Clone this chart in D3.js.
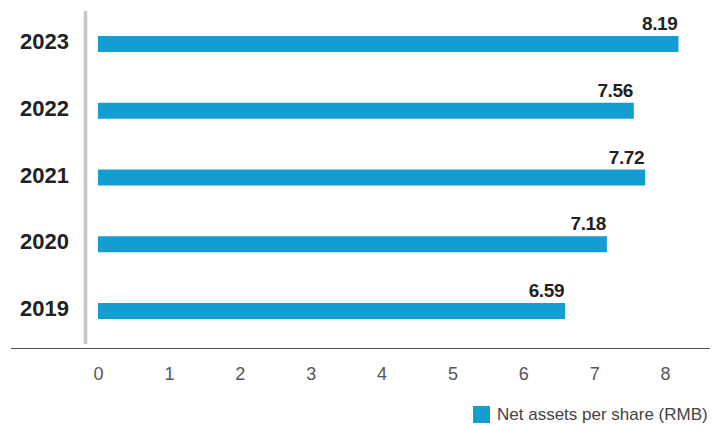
<!DOCTYPE html>
<html>
<head>
<meta charset="utf-8">
<script src="https://cdn.jsdelivr.net/npm/d3@7"></script>
<style>
  html, body { margin: 0; padding: 0; background: #fff; }
  svg { display: block; font-family: "Liberation Sans", Arial, Helvetica, sans-serif; }
</style>
</head>
<body>
<svg id="chart" width="713" height="426"></svg>
<script>
// Net assets per share by year (RMB)
const years = ["2023", "2022", "2021", "2020", "2019"];
const netAssets = [8.19, 7.56, 7.72, 7.18, 6.59];
const xTicks = [0, 1, 2, 3, 4, 5, 6, 7, 8];
const legendLabel = "Net assets per share (RMB)";

const barColor = "#149dd3";
const svg = d3.select("#chart");

const x = d3.scaleLinear().domain([0, 8]).range([98, 665]);
const y = d3.scalePoint().domain(years).range([10.6, 344.4]).padding(0.5);
const barH = 16;

// vertical baseline at the left of the bars
svg.append("line")
  .attr("x1", 85.5).attr("x2", 85.5)
  .attr("y1", 11).attr("y2", 344)
  .attr("stroke", "#c6c6ca").attr("stroke-width", 3.5);

// horizontal axis rule
svg.append("line")
  .attr("x1", 11).attr("x2", 710)
  .attr("y1", 348.5).attr("y2", 348.5)
  .attr("stroke", "#555").attr("stroke-width", 1.2);

// bars
svg.selectAll("rect.bar")
  .data(years)
  .join("rect")
  .attr("class", "bar")
  .attr("x", x(0))
  .attr("y", d => y(d) - barH / 2)
  .attr("width", (d, i) => x(netAssets[i]) - x(0))
  .attr("height", barH)
  .attr("fill", barColor);

// value labels
svg.selectAll("text.val")
  .data(years)
  .join("text")
  .attr("class", "val")
  .attr("x", (d, i) => x(netAssets[i]) - 1)
  .attr("y", d => y(d) - barH / 2 - 6)
  .attr("text-anchor", "end")
  .attr("font-size", 19)
  .attr("font-weight", "bold")
  .attr("letter-spacing", -0.4)
  .attr("fill", "#222")
  .text((d, i) => netAssets[i].toFixed(2));

// year labels
svg.selectAll("text.year")
  .data(years)
  .join("text")
  .attr("class", "year")
  .attr("x", 69)
  .attr("y", d => y(d) + 5)
  .attr("text-anchor", "end")
  .attr("font-size", 22)
  .attr("font-weight", "bold")
  .attr("fill", "#222")
  .text(d => d);

// x axis tick labels
const axis = d3.axisBottom(x).tickValues(xTicks).tickSize(0).tickPadding(0).tickFormat(d3.format("d"));
const gx = svg.append("g").attr("transform", "translate(0,367)").call(axis);
gx.select(".domain").remove();
gx.selectAll("text")
  .attr("font-size", 18)
  .attr("font-family", "Liberation Sans, Arial, sans-serif")
  .attr("fill", "#555")
  .attr("dy", "0.71em")
  .attr("y", 0);

// legend
svg.append("rect")
  .attr("x", 473).attr("y", 406)
  .attr("width", 17).attr("height", 17)
  .attr("fill", barColor);
svg.append("text")
  .attr("x", 497).attr("y", 420)
  .attr("font-size", 17)
  .attr("fill", "#444")
  .text(legendLabel);
</script>
</body>
</html>
